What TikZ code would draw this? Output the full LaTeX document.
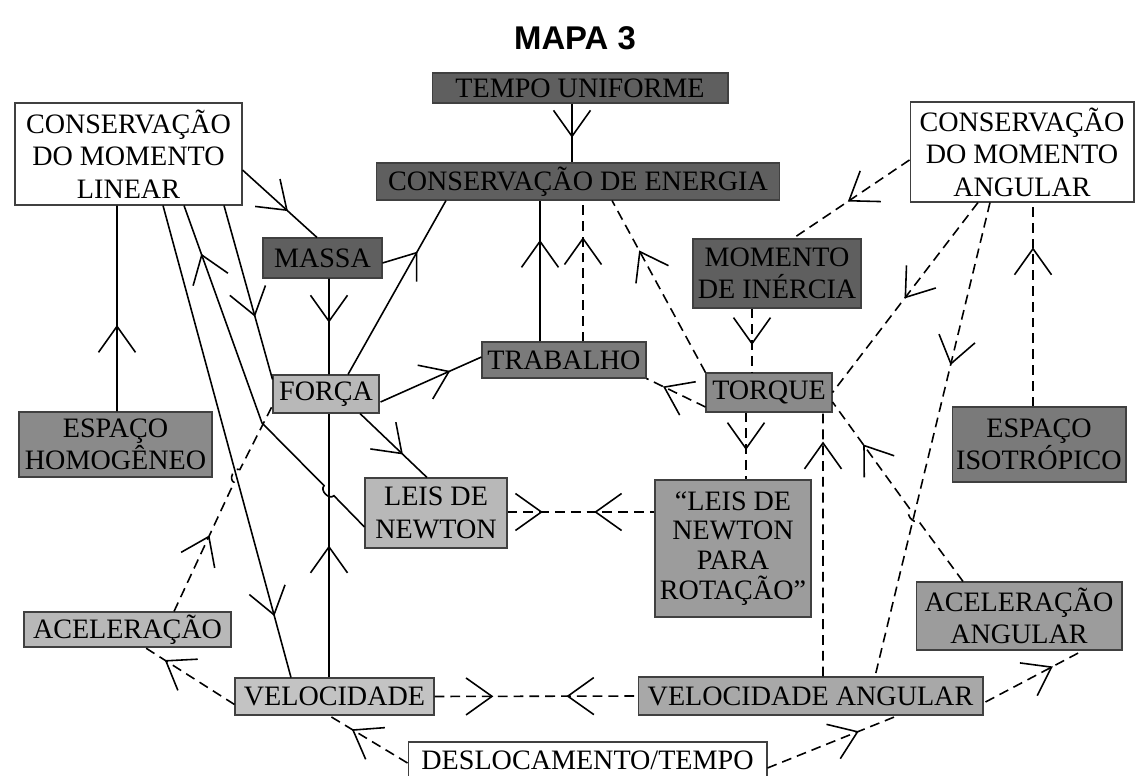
\documentclass[tikz,border=0pt]{standalone}
\usepackage{fontspec}
\setmainfont{Liberation Serif}
\newfontfamily\titlefont{Liberation Sans}
\usetikzlibrary{arrows.meta,decorations.markings,calc}

% fill shades of the concept boxes
\definecolor{shadeA}{HTML}{5F5F5F}
\definecolor{shadeB}{HTML}{7A7A7A}
\definecolor{shadeC}{HTML}{8A8A8A}
\definecolor{shadeD}{HTML}{9C9C9C}
\definecolor{shadeE}{HTML}{A8A8A8}
\definecolor{shadeF}{HTML}{B8B8B8}

\begin{document}
\begin{tikzpicture}[x=0.02cm,y=-0.02cm,
  cbox/.style={draw=black!75, line width=0.6pt, inner sep=0pt, align=center,
    font=\fontsize{16}{18.5}\selectfont},
  link/.style={line width=0.9pt},
  dlink/.style={link, dash pattern=on 5.6pt off 3.4pt},
  fwd/.style={postaction={decorate,decoration={markings,
    mark=at position #1 with {\arrow{Straight Barb[length=0.52cm,width=0.74cm,line width=0.9pt]}}}}},
  bwd/.style={postaction={decorate,decoration={markings,
    mark=at position #1 with {\arrowreversed{Straight Barb[length=0.52cm,width=0.74cm,line width=0.9pt]}}}}},
  hop/.style={bend left=90, looseness=1.2}
]
\useasboundingbox (0,0) rectangle (1136,776);

% title
\node[font=\titlefont\bfseries\fontsize{18.7}{22}\selectfont] (title) at (575,38) {MAPA 3};

% concept boxes
\node[cbox, fill=white, minimum width=4.54cm, minimum height=2.04cm] (cml) at (128.5,154)
  {CONSERVAÇÃO\\DO MOMENTO\\LINEAR};
\node[cbox, fill=white, minimum width=4.48cm, minimum height=2.0cm] (cma) at (1022,152)
  {CONSERVAÇÃO\\DO MOMENTO\\ANGULAR};
\node[cbox, fill=shadeA, minimum width=5.92cm, minimum height=0.6cm] (tempo) at (580,88)
  {TEMPO UNIFORME};
\node[cbox, fill=shadeA, minimum width=8.08cm, minimum height=0.74cm] (energia) at (578,181.5)
  {CONSERVAÇÃO DE ENERGIA};
\node[cbox, fill=shadeA, minimum width=2.38cm, minimum height=0.8cm] (massa) at (322.5,258)
  {MASSA};
\node[cbox, fill=shadeA, minimum width=3.36cm, minimum height=1.38cm] (momento) at (777,273.5)
  {MOMENTO\\DE INÉRCIA};
\node[cbox, fill=shadeC, minimum width=3.86cm, minimum height=1.3cm] (esphomo) at (115.5,444.5)
  {ESPAÇO\\HOMOGÊNEO};
\node[cbox, fill=shadeF, minimum width=2.12cm, minimum height=0.76cm] (forca) at (326,394)
  {FORÇA};
\node[cbox, fill=shadeB, minimum width=3.28cm, minimum height=0.72cm] (trabalho) at (564,360)
  {TRABALHO};
\node[cbox, fill=shadeC, minimum width=2.52cm, minimum height=0.78cm] (torque) at (769,392.5)
  {TORQUE};
\node[cbox, fill=shadeF, minimum width=2.84cm, minimum height=1.4cm] (leisn) at (436,513)
  {LEIS DE\\NEWTON};
\node[cbox, fill=shadeD, minimum width=3.12cm, minimum height=2.74cm, font=\fontsize{16}{17}\selectfont] (leisrot) at (733,548.5)
  {“LEIS DE\\NEWTON\\PARA\\ROTAÇÃO”};
\node[cbox, fill=shadeB, minimum width=3.48cm, minimum height=1.5cm] (espiso) at (1039,444.5)
  {ESPAÇO\\ISOTRÓPICO};
\node[cbox, fill=shadeF, minimum width=4.14cm, minimum height=0.7cm] (acel) at (127.5,629.5)
  {ACELERAÇÃO};
\node[cbox, fill=shadeD, minimum width=4.12cm, minimum height=1.36cm] (aa) at (1019,616)
  {ACELERAÇÃO\\ANGULAR};
\node[cbox, fill=shadeF!85!white, minimum width=3.98cm, minimum height=0.74cm] (vel) at (334.5,696.5)
  {VELOCIDADE};
\node[cbox, fill=shadeE, minimum width=6.9cm, minimum height=0.76cm] (va) at (810.5,696)
  {VELOCIDADE ANGULAR};
\node[cbox, fill=white, minimum width=7.18cm, minimum height=0.72cm] (dt) at (587.5,760)
  {DESLOCAMENTO/TEMPO};

% bend of the line from the laws of Newton, and the small hops where lines cross
\coordinate (bendN) at (262,423);
\coordinate (hopA1) at (333.9,495.7);
\coordinate (hopA2) at (324.1,485.7);
\coordinate (hopB1) at (234.1,482.4);
\coordinate (hopB2) at (239.9,469.6);
\coordinate (hopC1) at (918.3,520.7);
\coordinate (hopC2) at (910.1,509.3);

% solid connectors
\draw[link, fwd=0.58] ($(tempo.south)+(-8,0)$) -- ($(energia.north)+(-6,0)$);
\draw[link, fwd=0.61] ($(cml.east)+(0,16)$) -- ($(massa.north)+(-5.5,0)$);
\draw[link, fwd=0.64] ($(cml.south)+(95.5,0)$) -- ($(forca.north west)+(0,5)$);
\draw[link, fwd=0.866] ($(leisn.west)+(0,14)$) -- (hopA1) to[hop] (hopA2) -- (bendN) -- ($(cml.south)+(55.5,0)$);
\draw[link, fwd=0.87] ($(cml.south)+(34.5,0)$) -- ($(vel.north)+(-43.5,0)$);
\draw[link, fwd=0.42] ($(esphomo.north)+(1.5,0)$) -- ($(cml.south)+(-11.5,0)$);
\draw[link, fwd=0.46] ($(massa.south)+(6.5,0)$) -- ($(forca.north)+(3,0)$);
\draw[link, fwd=0.50] ($(vel.north)+(-5.5,0)$) -- ($(forca.south)+(3,0)$);
\draw[link] ($(forca.north)+(22,0)$) -- coordinate[pos=0.70] (fv) ($(energia.south)+(-132,0)$);
\draw[link] ($(massa.east)+(0,5)$) -- (fv) -- ++(0,29);
\draw[link, fwd=0.69] ($(forca.east)+(1,8)$) -- ($(trabalho.west)+(0,-3)$);
\draw[link, fwd=0.64] ($(forca.south)+(34,0)$) -- ($(leisn.north)+(-9,0)$);
\draw[link, fwd=0.72] ($(trabalho.north)+(-24,0)$) -- ($(energia.south)+(-38,0)$);

% dashed connectors
\draw[dlink, fwd=0.74] ($(trabalho.north)+(19,0)$) -- ($(energia.south)+(5,0)$);
\draw[dlink, fwd=0.71] (torque.north west) -- ($(energia.south)+(34,0)$);
\draw[dlink, fwd=0.72] ($(torque.west)+(0,14.5)$) -- (trabalho.south east);
\draw[dlink, fwd=0.57] ($(momento.south)+(-25,0)$) -- ($(torque.north)+(-17,0)$);
\draw[dlink, fwd=0.53] ($(cma.west)+(0,8)$) -- ($(momento.north)+(16,0)$);
\draw[dlink, fwd=0.505] ($(cma.south)+(-44,0)$) -- (torque.east);
\draw[dlink, fwd=0.343] ($(cma.south)+(-32,0)$) -- ($(va.north)+(64.5,0)$);
\draw[dlink, fwd=0.78] ($(espiso.north)+(-6,0)$) -- ($(cma.south)+(11,0)$);
\draw[dlink, fwd=0.56] ($(torque.south)+(-23,0)$) -- ($(leisrot.north)+(13,0)$);
\draw[dlink, fwd=0.89] ($(va.north)+(12.5,0)$) -- ($(torque.south)+(54,0)$);
\draw[dlink, fwd=0.77] ($(aa.north)+(-56,0)$) -- (hopC1) to[hop] (hopC2) -- ($(torque.east)+(0,9.5)$);
\draw[dlink, fwd=0.24, bwd=0.59] ($(leisn.east)+(0,-1)$) -- ($(leisrot.west)+(0,-36.5)$);
\draw[dlink, fwd=0.29, bwd=0.65] (vel.east) -- (va.west);
\draw[dlink, fwd=0.78] ($(vel.west)+(0,8)$) -- ($(acel.south)+(17.5,0)$);
\draw[dlink, fwd=0.36] ($(acel.north)+(46.5,0)$) -- (hopB1) to[hop] (hopB2) -- ($(forca.south west)+(0,-8)$);
\draw[dlink, fwd=0.71] ($(dt.west)+(0,3)$) -- ($(vel.south)+(-5.5,0)$);
\draw[dlink, fwd=0.70] ($(dt.east)+(0,8)$) -- ($(va.south)+(87.5,0)$);
\draw[dlink, fwd=0.69] ($(va.east)+(2,6)$) -- ($(aa.south)+(64,0)$);
\end{tikzpicture}
\end{document}
